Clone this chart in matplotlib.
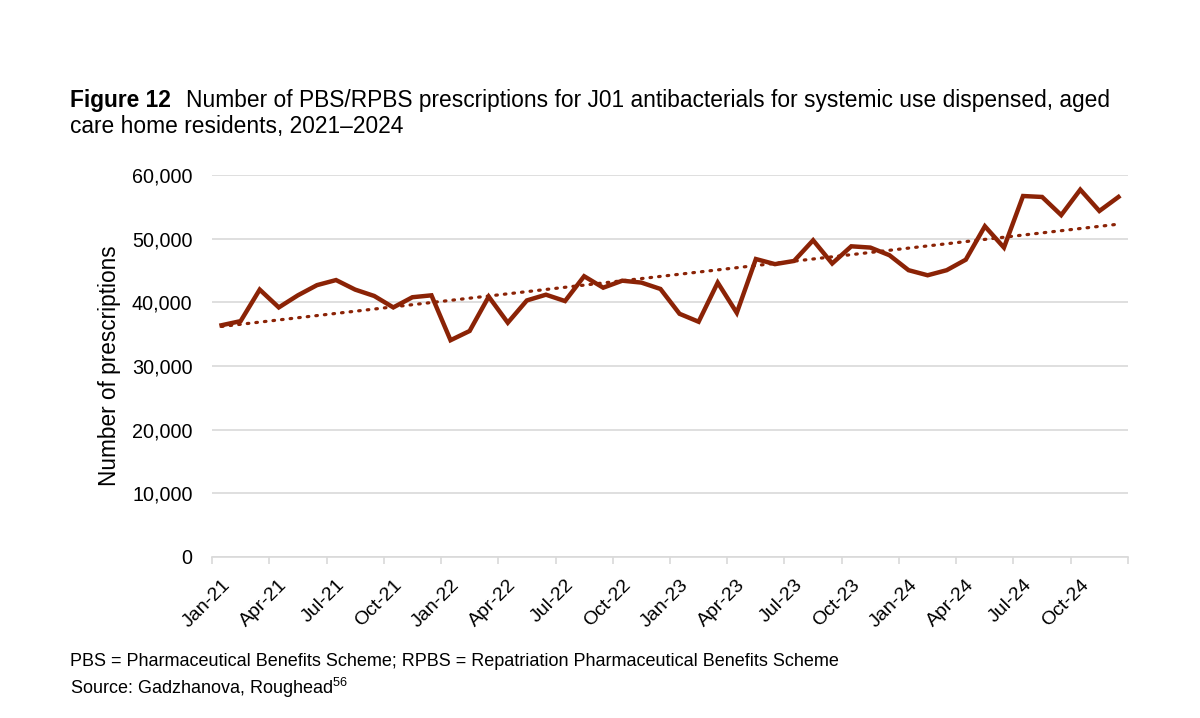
import numpy as np
import matplotlib
matplotlib.use("Agg")
import matplotlib.pyplot as plt
from matplotlib.ticker import FuncFormatter, FixedLocator

plt.rcParams['font.family'] = ['Liberation Sans', 'DejaVu Sans']
plt.rcParams['mathtext.fontset'] = 'custom'
plt.rcParams['mathtext.rm'] = 'Liberation Sans'
plt.rcParams['mathtext.it'] = 'Liberation Sans:italic'
plt.rcParams['mathtext.bf'] = 'Liberation Sans:bold'

months = ["Jan", "Feb", "Mar", "Apr", "May", "Jun", "Jul", "Aug", "Sep", "Oct", "Nov", "Dec"]
years = ["21", "22", "23", "24"]
categories = [f"{m}-{y}" for y in years for m in months]

prescriptions = [
    36400, 37050, 42000, 39200, 41100, 42700, 43500, 42000, 41000, 39200, 40800, 41100,
    34050, 35500, 40900, 36800, 40300, 41200, 40200, 44100, 42300, 43400, 43100, 42100,
    38200, 36950, 43100, 38350, 46800, 46000, 46500, 49750, 46100, 48800, 48600, 47400,
    45050, 44250, 45050, 46700, 51950, 48600, 56700, 56550, 53700, 57700, 54350, 56550,
]

y_ticks = [0, 10000, 20000, 30000, 40000, 50000, 60000]

title_bold = "Figure 12"
title_line1 = "Number of PBS/RPBS prescriptions for J01 antibacterials for systemic use dispensed, aged"
title_line2 = "care home residents, 2021\u20132024"
y_label = "Number of prescriptions"
footnote1 = "PBS = Pharmaceutical Benefits Scheme; RPBS = Repatriation Pharmaceutical Benefits Scheme"
footnote2 = "Source: Gadzhanova, Roughead$^{\\mathrm{56}}$"

color = "#8B2306"

fig = plt.figure(figsize=(12, 7.18), dpi=100)
ax = fig.add_axes([212/1200, 1 - 557/718, (1128-212)/1200, (557-175)/718])

x = np.arange(len(prescriptions))
ax.plot(x, prescriptions, color=color, lw=3.2, solid_joinstyle='miter', zorder=3)

coef = np.polyfit(x, prescriptions, 1)
trend = np.polyval(coef, x)
ax.plot(x, trend, color=color, lw=2.3, linestyle=(0, (0.5, 2.2)), dash_capstyle='round', zorder=2)

ax.set_xlim(-0.5, len(prescriptions) - 0.5)
ax.set_ylim(0, 60000)
ax.set_yticks(y_ticks)
ax.yaxis.set_major_formatter(FuncFormatter(lambda v, p: f"{int(v):,}"))
ax.grid(axis='y', color='#d9d9d9', lw=1.2)
ax.set_axisbelow(True)
for s in ['top', 'right', 'left']:
    ax.spines[s].set_visible(False)
ax.spines['bottom'].set_color('#d9d9d9')
ax.spines['bottom'].set_linewidth(1.2)
ax.tick_params(axis='y', length=0, labelsize=14.2, pad=14, labelcolor='#000000')

# tick marks at category boundaries every 3 months, labels at category centers
ax.xaxis.set_major_locator(FixedLocator(np.arange(-0.5, len(prescriptions), 3)))
ax.xaxis.set_major_formatter(FuncFormatter(lambda v, p: ""))
ax.xaxis.set_minor_locator(FixedLocator(np.arange(0, len(prescriptions), 3)))
ax.set_xticklabels([categories[i] for i in range(0, len(prescriptions), 3)], minor=True,
                   rotation=45, ha='right', rotation_mode='anchor', fontsize=14)
ax.tick_params(axis='x', which='major', length=5, color='#d9d9d9', width=1.2)
ax.tick_params(axis='x', which='minor', length=0, pad=14)

ax.set_ylabel(y_label, fontsize=16.3, labelpad=8)

fig.text(70/1200, 1 - 101/718, title_bold, fontsize=16.4, fontweight='bold', va='center', ha='left')
fig.text(186/1200, 1 - 101/718, title_line1, fontsize=16.4, va='center', ha='left')
fig.text(70/1200, 1 - 127/718, title_line2, fontsize=16.4, va='center', ha='left')

fig.text(70/1200, 1 - 662/718, footnote1, fontsize=13, va='center', ha='left')
fig.text(70/1200, 1 - 688/718, footnote2, fontsize=13, va='center', ha='left')

fig.savefig("out.png", dpi=100, facecolor='white')
